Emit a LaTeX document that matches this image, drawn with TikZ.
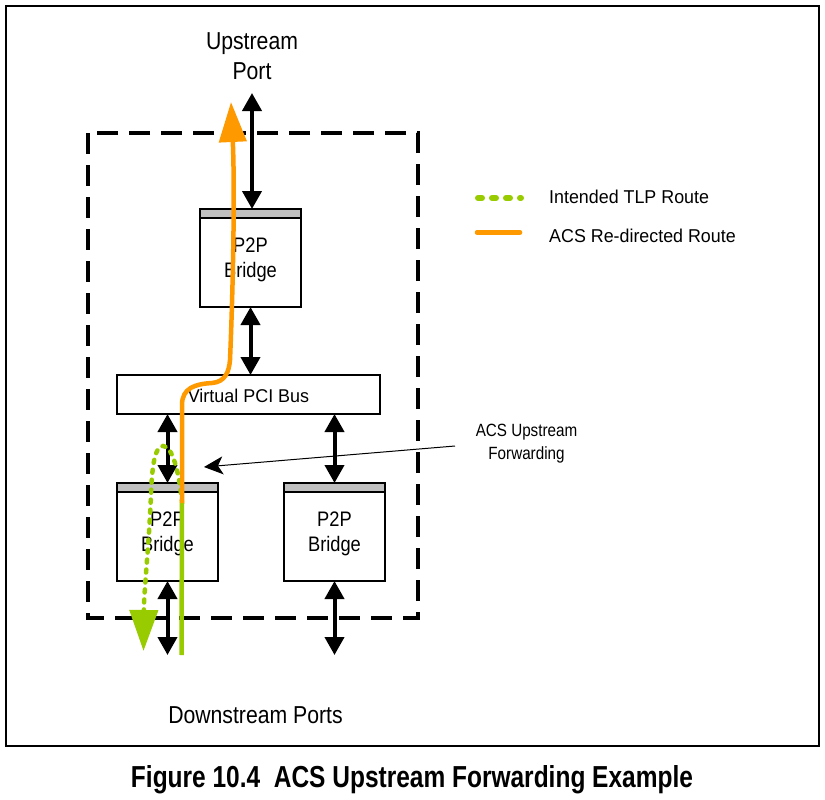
\documentclass[tikz,border=0pt]{standalone}
\usepackage{fontspec}
\setmainfont{Liberation Sans}
\usepackage{graphicx}
\usetikzlibrary{arrows.meta,calc}
\definecolor{tlpgreen}{RGB}{153,204,0}
\definecolor{acsorange}{RGB}{255,153,0}
\definecolor{bargray}{RGB}{192,192,192}
\newcommand{\lbl}[3]{\scalebox{#2}[1]{\fontsize{#1}{#1}\selectfont #3}}
\begin{document}
\begin{tikzpicture}[x=1pt,y=-1pt,
  bridgebox/.style={draw, line width=2.5pt, minimum width=101pt, minimum height=98pt, inner sep=0pt, outer sep=0pt, fill=white},
  busbox/.style={draw, line width=2.5pt, minimum width=263pt, minimum height=39pt, inner sep=0pt, outer sep=0pt, fill=white},
  graybar/.style={draw, line width=2pt, fill=bargray},
  dbl/.style={line width=4pt, {Triangle[width=19pt,length=18pt]}-{Triangle[width=19pt,length=18pt]}},
  txt/.style={inner sep=0pt, anchor=base},
  greenroute/.style={tlpgreen, line width=4.5pt},
  dotroute/.style={tlpgreen, line width=4.5pt, dash pattern=on 3pt off 7pt, line cap=round},
  orangeroute/.style={acsorange, line width=4.5pt},
  boundary/.style={line width=3.5pt, dash pattern=on 21pt off 11pt},
  pointer/.style={line width=1pt, -{Stealth[width=18pt,length=19pt,inset=5pt]}}
]
\useasboundingbox (0,0) rectangle (825,800);
\fill[white] (0,0) rectangle (825,800);
% outer frame
\draw[line width=2pt] (6,6) rectangle (819,746);
% dashed switch boundary
\draw[boundary] (88,133) rectangle (418,618);

% boxes
\node[bridgebox] (topb) at (250.5,258) {};
\node[busbox] (bus) at (248.5,394.5) {};
\node[bridgebox] (lb) at (167.5,532) {};
\node[bridgebox] (rb) at (334.5,532) {};
\foreach \b in {topb,lb,rb}{
  \draw[graybar] (\b.north west) rectangle ($(\b.north east)+(0,9)$);
}

% texts
\node[txt] (up1) at (252,50) {\lbl{24.5}{0.866}{Upstream}};
\node[txt] (up2) at (252,80) {\lbl{24.5}{0.866}{Port}};
\node[txt] (down) at (255.5,723.3) {\lbl{24.5}{0.866}{Downstream Ports}};
\node[txt] (topb1) at ($(topb.north)+(0,43.5)$) {\lbl{21}{0.87}{P2P}};
\node[txt] (topb2) at ($(topb.north)+(0,68.5)$) {\lbl{21}{0.87}{Bridge}};
\node[txt] (lb1) at ($(lb.north)+(0,43.5)$) {\lbl{21}{0.87}{P2P}};
\node[txt] (lb2) at ($(lb.north)+(0,68.5)$) {\lbl{21}{0.87}{Bridge}};
\node[txt] (rb1) at ($(rb.north)+(0,43.5)$) {\lbl{21}{0.87}{P2P}};
\node[txt] (rb2) at ($(rb.north)+(0,68.5)$) {\lbl{21}{0.87}{Bridge}};
\node[txt] (bustext) at (248.5,402) {\lbl{18.5}{0.97}{Virtual PCI Bus}};
\node[txt] (acs1) at (526.5,436.7) {\lbl{17.7}{0.86}{ACS Upstream}};
\node[txt] (acs2) at (526.5,459) {\lbl{17.7}{0.86}{Forwarding}};
\node[txt, anchor=base west] (leg1) at (549,203.3) {\lbl{18.6}{0.96}{Intended TLP Route}};
\node[txt, anchor=base west] (leg2) at (549,242.7) {\lbl{18.6}{0.96}{ACS Re-directed Route}};
\node[txt] (caption) at (412,787) {\resizebox{562pt}{22pt}{\bfseries Figure 10.4\ \ ACS Upstream Forwarding Example}};

% black links
\coordinate (upend) at (252,93);
\coordinate (lbdown) at (167.5,655);
\coordinate (rbdown) at (334.5,655);
\draw[dbl] (upend) -- (upend |- topb.north);
\draw[dbl] (topb.south) -- (topb.south |- bus.north);
\draw[dbl] (lb.north |- bus.south) -- (lb.north);
\draw[dbl] (rb.north |- bus.south) -- (rb.north);
\draw[dbl] (lb.south) -- (lbdown);
\draw[dbl] (rb.south) -- (rbdown);

% ACS pointer
\coordinate (acsfrom) at (455,446);
\coordinate (acsto) at (204,467);
\draw[pointer] (acsfrom) -- (acsto);

% routes
\coordinate (greenstart) at (181.5,655);
\coordinate (greenjoin) at (182,503);
\coordinate (greenend) at (143.5,651);
\coordinate (orangeend) at (231,102);
\draw[greenroute] (greenstart) -- (greenjoin);
\draw[dotroute, -{Triangle[width=28pt,length=41pt]}] (greenjoin) .. controls (179,470) and (172,446) .. (163,446) .. controls (155,446) and (152,465) .. (151,495) .. controls (149,545) and (144,590) .. (greenend);
\draw[orangeroute, -{Triangle[width=27pt,length=40pt]}] (greenjoin) -- (182,405) .. controls (182,388) and (195,384) .. (212,383) .. controls (225,382) and (229,372) .. (230,360) .. controls (233,290) and (235,190) .. (orangeend);

% legend
\coordinate (lgA) at (478,198);
\coordinate (lgB) at (521,198);
\coordinate (loA) at (477,232.5);
\coordinate (loB) at (520,232.5);
\draw[tlpgreen, line width=6pt, dash pattern=on 4pt off 10pt, line cap=round] (lgA) -- (lgB);
\draw[acsorange, line width=4.5pt, line cap=round] (loA) -- (loB);
\end{tikzpicture}
\end{document}
